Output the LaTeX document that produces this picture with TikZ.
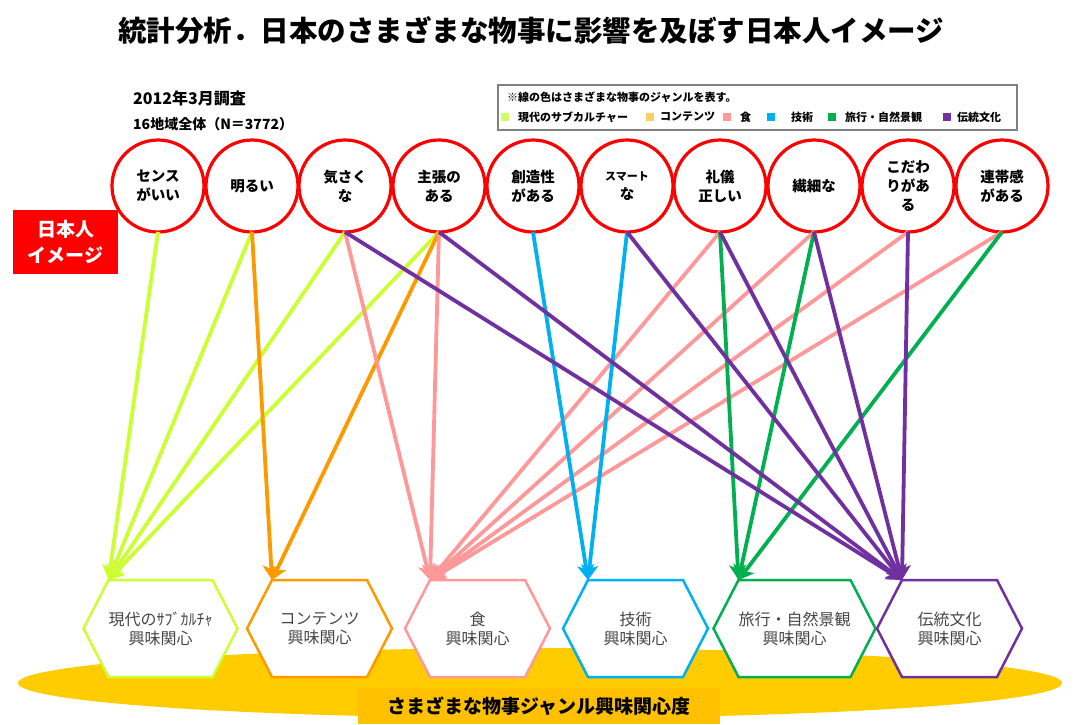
\documentclass[tikz,border=0pt]{standalone}
\usepackage{fontspec}
\setmainfont{Noto Sans CJK JP}
\usetikzlibrary{arrows.meta}
\definecolor{clime}{RGB}{204,255,51}
\definecolor{corange}{RGB}{255,153,0}
\definecolor{cpink}{RGB}{255,153,153}
\definecolor{cblue}{RGB}{0,176,240}
\definecolor{cgreen}{RGB}{0,176,80}
\definecolor{cpurple}{RGB}{112,48,160}
\definecolor{lglime}{RGB}{204,255,102}
\definecolor{lgorange}{RGB}{255,204,102}
\definecolor{bandyellow}{RGB}{255,204,0}
\definecolor{labelyellow}{RGB}{255,192,0}
\definecolor{hextext}{RGB}{70,70,70}
\definecolor{legendgray}{RGB}{128,128,128}
\pgfdeclarelayer{back}
\pgfdeclarelayer{mid}
\pgfsetlayers{back,mid,main}
\newcommand\drawhexagon[2]{%
  \begin{pgfonlayer}{mid}
  \filldraw[hexline,fill=white,#2] (#1.north west) -- (#1.north east) -- ([xshift=25pt]#1.east)
    -- (#1.south east) -- (#1.south west) -- ([xshift=-25pt]#1.west) -- cycle;
  \end{pgfonlayer}}
\begin{document}
\begin{tikzpicture}[x=1pt,y=-1pt,
  img/.style={circle,draw=red,line width=3.2pt,fill=white,minimum size=92pt,inner sep=0pt,outer sep=0pt,
    align=center,font=\bfseries\fontsize{14.5}{19}\selectfont},
  hexbox/.style={minimum width=95pt,minimum height=97pt,inner sep=0pt,outer sep=0pt,align=center,
    text=hextext,font=\fontsize{16}{19}\selectfont},
  hexline/.style={line width=2.5pt,line join=miter},
  link/.style={line width=3.8pt,-{Stealth[length=15pt,width=17pt,inset=4pt]}},
  sq/.style={minimum size=8pt,inner sep=0pt},
  lg/.style={anchor=west,inner sep=0pt,font=\bfseries\fontsize{11}{13}\selectfont},
]
\begin{pgfonlayer}{back}
\useasboundingbox (0,0) rectangle (1079,720);
\fill[white] (0,0) rectangle (1079,720);
% yellow band
\fill[bandyellow] (540,683) ellipse [x radius=522, y radius=35];
\end{pgfonlayer}

% title and header texts
\node[font=\bfseries\fontsize{28.5}{32}\selectfont] (title) at (531,30) {統計分析．日本のさまざまな物事に影響を及ぼす日本人イメージ};
\node[anchor=west,inner sep=0pt,font=\bfseries\fontsize{16}{18}\selectfont] (date) at (133,98) {2012年3月調査};
\node[anchor=west,inner sep=0pt,font=\bfseries\fontsize{14}{16}\selectfont] (sample) at (133,124) {16地域全体（N＝3772）};

% legend
\node[draw=legendgray,line width=2pt,minimum width=519pt,minimum height=45pt,inner sep=0pt] (legend) at (757.5,107.5) {};
\node[lg] (lgnote) at (507,97) {※線の色はさまざまな物事のジャンルを表す。};
\node[sq,fill=lglime] (sq1) at (505,117) {};
\node[lg] (lt1) at (518,117) {現代のサブカルチャー};
\node[sq,fill=lgorange] (sq2) at (650,117) {};
\node[lg] (lt2) at (660,117) {コンテンツ};
\node[sq,fill=cpink] (sq3) at (727,117) {};
\node[lg] (lt3) at (740,117) {食};
\node[sq,fill=cblue] (sq4) at (771,117) {};
\node[lg] (lt4) at (791,117) {技術};
\node[sq,fill=cgreen] (sq5) at (832,117) {};
\node[lg] (lt5) at (845,117) {旅行・自然景観};
\node[sq,fill=cpurple] (sq6) at (947,117) {};
\node[lg] (lt6) at (957,117) {伝統文化};

% red label
\node[fill=red,text=white,minimum width=105pt,minimum height=64pt,inner sep=0pt,align=center,
  font=\bfseries\fontsize{19}{26}\selectfont] (jplabel) at (65.5,242) {日本人\\イメージ};

% band label
\node[fill=labelyellow,minimum width=362pt,minimum height=36pt,inner sep=0pt,
  font=\bfseries\fontsize{19}{22}\selectfont] (bandlabel) at (539,706) {さまざまな物事ジャンル興味関心度};

% hexagons
\node[hexbox] (h1) at (160.5,628.5) {現代のｻﾌﾞｶﾙﾁｬ\\興味関心};
\node[hexbox] (h2) at (319.5,628.5) {コンテンツ\\興味関心};
\node[hexbox] (h3) at (477.5,628.5) {食\\興味関心};
\node[hexbox] (h4) at (635.5,628.5) {技術\\興味関心};
\node[hexbox] (h5) at (794.5,628.5) {旅行・自然景観\\興味関心};
\node[hexbox] (h6) at (949.5,628.5) {伝統文化\\興味関心};
\drawhexagon{h1}{draw=clime}
\drawhexagon{h2}{draw=corange}
\drawhexagon{h3}{draw=cpink}
\drawhexagon{h4}{draw=cblue}
\drawhexagon{h5}{draw=cgreen}
\drawhexagon{h6}{draw=cpurple}

% image circles
\node[img] (c1) at (158,186) {センス\\がいい};
\node[img] (c2) at (252,186) {明るい};
\node[img] (c3) at (345,186) {気さく\\な};
\node[img] (c4) at (439,186) {主張の\\ある};
\node[img] (c5) at (533,186) {創造性\\がある};
\node[img] (c6) at (627,186) {{\fontsize{11}{19}\selectfont スマート}\\な};
\node[img] (c7) at (720,186) {礼儀\\正しい};
\node[img] (c8) at (814,186) {繊細な};
\node[img] (c9) at (908,186) {こだわ\\りがあ\\る};
\node[img] (c10) at (1002,186) {連帯感\\がある};

% links
\draw[link,clime] (c1.south) -- (h1.north west);
\draw[link,clime] (c2.south) -- (h1.north west);
\draw[link,clime] (c3.south) -- (h1.north west);
\draw[link,clime] (c4.south) -- (h1.north west);
\draw[link,corange] (c2.south) -- (h2.north west);
\draw[link,corange] (c4.south) -- (h2.north west);
\draw[link,cpink] (c3.south) -- (h3.north west);
\draw[link,cpink] (c4.south) -- (h3.north west);
\draw[link,cpink] (c7.south) -- (h3.north west);
\draw[link,cpink] (c8.south) -- (h3.north west);
\draw[link,cpink] (c9.south) -- (h3.north west);
\draw[link,cpink] (c10.south) -- (h3.north west);
\draw[link,cblue] (c5.south) -- (h4.north west);
\draw[link,cblue] (c6.south) -- (h4.north west);
\draw[link,cgreen] (c7.south) -- (h5.north west);
\draw[link,cgreen] (c8.south) -- (h5.north west);
\draw[link,cgreen] (c10.south) -- (h5.north west);
\draw[link,cpurple] (c3.south) -- (h6.north west);
\draw[link,cpurple] (c4.south) -- (h6.north west);
\draw[link,cpurple] (c6.south) -- (h6.north west);
\draw[link,cpurple] (c7.south) -- (h6.north west);
\draw[link,cpurple] (c8.south) -- (h6.north west);
\draw[link,cpurple] (c9.south) -- (h6.north west);
\end{tikzpicture}
\end{document}
